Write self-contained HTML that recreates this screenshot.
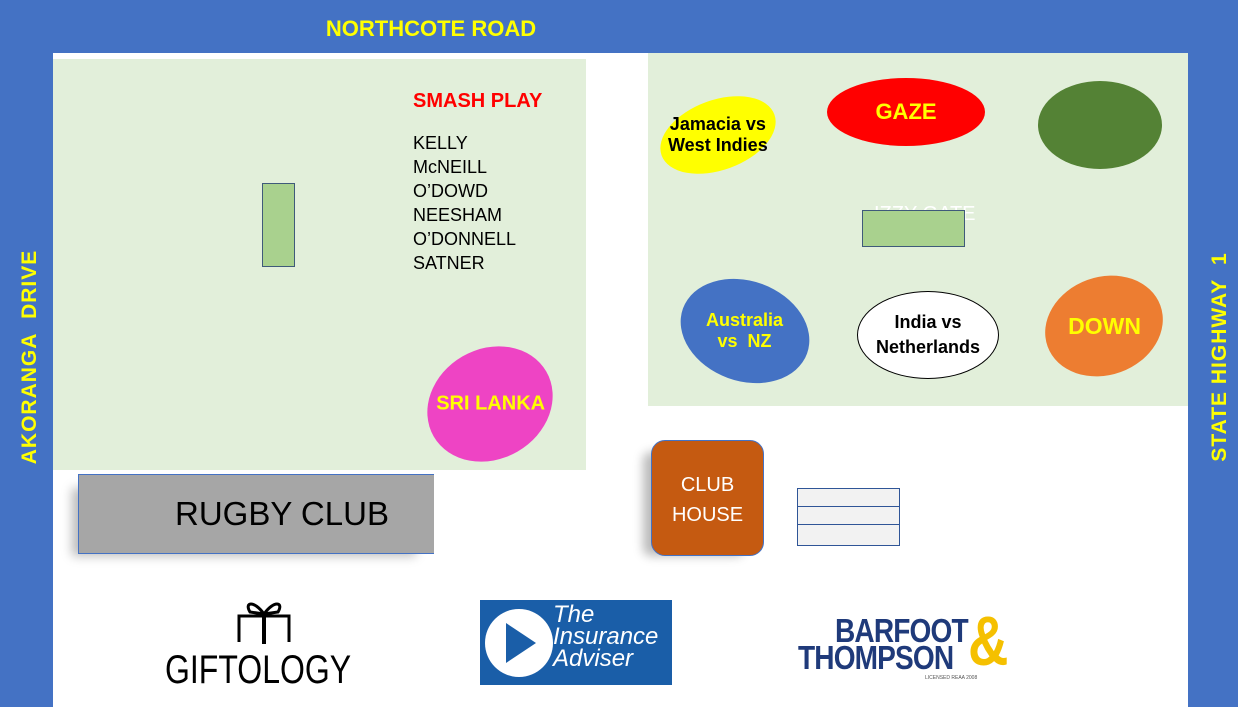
<!DOCTYPE html>
<html><head><style>
body{margin:0;width:1238px;height:707px;background:#4472C4;position:relative;overflow:hidden;font-family:"Liberation Sans",sans-serif}
div{position:absolute;box-sizing:border-box}
.e{border-radius:50%;display:flex;align-items:center;justify-content:center;text-align:center;font-weight:bold}
</style></head><body>
<div style="left:53px;top:53px;width:1135px;height:654px;background:#fff"></div>
<div style="left:53px;top:59px;width:533px;height:411px;background:#E2EFDA"></div>
<div style="left:648px;top:53px;width:540px;height:353px;background:#E2EFDA"></div>
<div style="left:0;top:16px;width:862px;text-align:center;color:#FFFF00;font-weight:bold;font-size:22px">NORTHCOTE ROAD</div>
<div style="left:-100px;top:345px;width:260px;text-align:center;color:#FFFF00;font-weight:bold;font-size:21px;transform:rotate(-90deg);letter-spacing:1px">AKORANGA&nbsp; DRIVE</div>
<div style="left:1090px;top:345px;width:260px;text-align:center;color:#FFFF00;font-weight:bold;font-size:21px;transform:rotate(-90deg);letter-spacing:1px">STATE HIGHWAY&nbsp; 1</div>
<div style="left:413px;top:90px;color:#FF0000;font-weight:bold;font-size:20px">SMASH PLAY</div>
<div style="left:413px;top:131px;color:#000;font-size:18px;line-height:24px">KELLY<br>McNEILL<br>O’DOWD<br>NEESHAM<br>O’DONNELL<br>SATNER</div>
<div style="left:262px;top:183px;width:33px;height:84px;background:#A9D18E;border:1px solid #3f5a7a"></div>
<div class="e" style="left:425px;top:349px;width:130px;height:110px;background:#EE44C4;color:#FFFF00;font-size:20px;transform:rotate(-30deg)"><span style="transform:rotate(30deg)">SRI LANKA</span></div>
<div style="left:78px;top:474px;width:356px;height:80px;background:#A6A6A6;border:1px solid #4472C4;border-right:none;font-size:33px;padding:20px 0 0 96px;box-shadow:-12px 8px 10px -6px #bbb">RUGBY CLUB</div>
<div class="e" style="left:658px;top:100px;width:120px;height:70px;background:#FFFF00;font-size:18px;transform:rotate(-20deg)"><span style="transform:rotate(20deg);white-space:nowrap">Jamacia vs<br>West Indies</span></div>
<div class="e" style="left:827px;top:78px;width:158px;height:68px;background:#FF0000;color:#FFFF00;font-size:22px">GAZE</div>
<div class="e" style="left:1038px;top:81px;width:124px;height:88px;background:#548235"></div>
<div style="left:874px;top:203px;color:#fff;font-size:20px">IZZY GATE</div>
<div style="left:862px;top:210px;width:103px;height:37px;background:#A9D18E;border:1px solid #3f5a7a"></div>
<div class="e" style="left:679px;top:281px;width:132px;height:100px;background:#4472C4;color:#FFFF00;font-size:18px;transform:rotate(20deg)"><span style="transform:rotate(-20deg)">Australia<br>vs&nbsp; NZ</span></div>
<div class="e" style="left:857px;top:291px;width:142px;height:88px;background:#fff;border:1px solid #000;font-size:18px;line-height:25px">India vs<br>Netherlands</div>
<div class="e" style="left:1044px;top:277px;width:120px;height:98px;background:#ED7D31;color:#FFFF00;font-size:23px;transform:rotate(-20deg)"><span style="transform:rotate(20deg)">DOWN</span></div>
<div style="left:651px;top:440px;width:113px;height:116px;background:#C55A11;border:1px solid #4472C4;border-radius:14px;color:#fff;font-size:20px;text-align:center;padding-top:29px;line-height:30px;box-shadow:-14px 6px 10px -6px #bbb">CLUB<br>HOUSE</div>
<div style="left:797px;top:488px;width:103px;height:58px;border:1px solid #2F5597;background:#F2F2F2"></div>
<div style="left:797px;top:506px;width:103px;height:19px;border-top:1px solid #2F5597;border-bottom:1px solid #2F5597"></div>
<svg style="position:absolute;left:236px;top:600px" width="56" height="45"><path d="M28 14 C18 0 8 2 14 12 L28 14 M28 14 C38 0 48 2 42 12 L28 14" fill="none" stroke="#000" stroke-width="3"/><path d="M3 42 V16 H53 V42" fill="none" stroke="#000" stroke-width="3"/><path d="M28 14 V44" stroke="#000" stroke-width="4"/></svg>
<div style="left:165px;top:648px;font-size:40px;color:#000;transform:scaleX(0.8);transform-origin:left;-webkit-text-stroke:0px">GIFTOLOGY</div>
<div style="left:480px;top:600px;width:192px;height:85px;background:#1A5EA8"></div>
<svg style="position:absolute;left:483px;top:606px" width="72" height="74"><circle cx="36" cy="37" r="34" fill="#fff"/><path d="M23 17 L53 37 L23 57Z" fill="#1A5EA8"/></svg>
<div style="left:553px;top:604px;color:#fff;font-style:italic;font-size:24px;line-height:22px">The<br>Insurance<br>Adviser</div>
<div style="left:835px;top:617px;color:#1F3A7A;font-weight:bold;font-size:33px;line-height:28px;letter-spacing:-1px;transform:scaleX(0.85);transform-origin:left">BARFOOT</div>
<div style="left:798px;top:644px;color:#1F3A7A;font-weight:bold;font-size:33px;line-height:28px;letter-spacing:-1px;transform:scaleX(0.85);transform-origin:left">THOMPSON</div>
<div style="left:968px;top:604px;color:#F5C000;font-size:70px;line-height:74px;font-weight:bold;transform:scaleX(0.8);transform-origin:left">&amp;</div>
<div style="left:925px;top:675px;color:#555;font-size:5px">LICENSED REAA 2008</div>
</body></html>
